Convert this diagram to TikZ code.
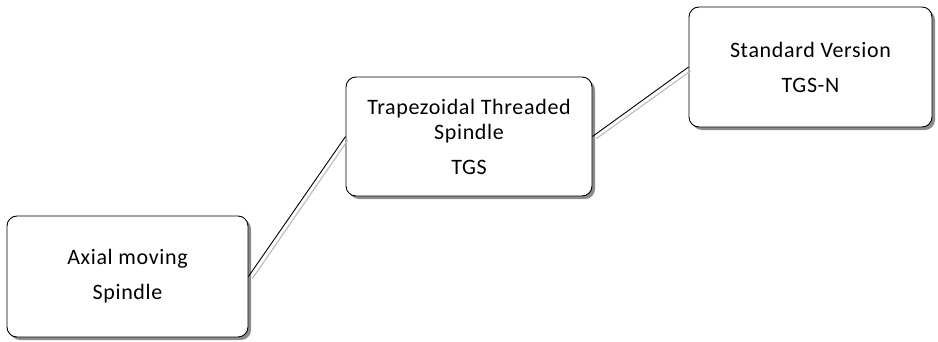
\documentclass[tikz,border=0pt]{standalone}
\usepackage{fontspec}
\setmainfont[LetterSpace=3]{Carlito}
\usetikzlibrary{shadows}
\begin{document}
\begin{tikzpicture}[x=1pt,y=1pt,
  boxstyle/.style={draw=black, line width=0.9pt, fill=white, rounded corners=10pt,
    drop shadow={shadow xshift=3pt, shadow yshift=-3pt, fill=black!45, opacity=1},
    align=center, font=\fontsize{22}{25}\selectfont, inner sep=0pt},
  linkline/.style={draw=black, line width=0.9pt},
  linkshadow/.style={draw=black!25, line width=1.2pt}]
\useasboundingbox (0,0) rectangle (938,341);
\node[boxstyle, minimum width=241pt, minimum height=121pt] (A) at (127.5,64.5) {Axial moving\\[10pt]Spindle};
\node[boxstyle, minimum width=246pt, minimum height=119pt] (B) at (469,204.5) {Trapezoidal Threaded\\Spindle\\[10pt]TGS};
\node[boxstyle, minimum width=243pt, minimum height=120pt] (C) at (810.5,274) {Standard Version\\[10pt]TGS-N};
\draw[linkshadow] ([shift={(4,-2)}]A.east) -- ([shift={(2,-4)}]B.west);
\draw[linkshadow] ([shift={(4,-2)}]B.east) -- ([shift={(2,-4)}]C.west);
\draw[linkline] (A.east) -- (B.west);
\draw[linkline] (B.east) -- (C.west);
\end{tikzpicture}
\end{document}
